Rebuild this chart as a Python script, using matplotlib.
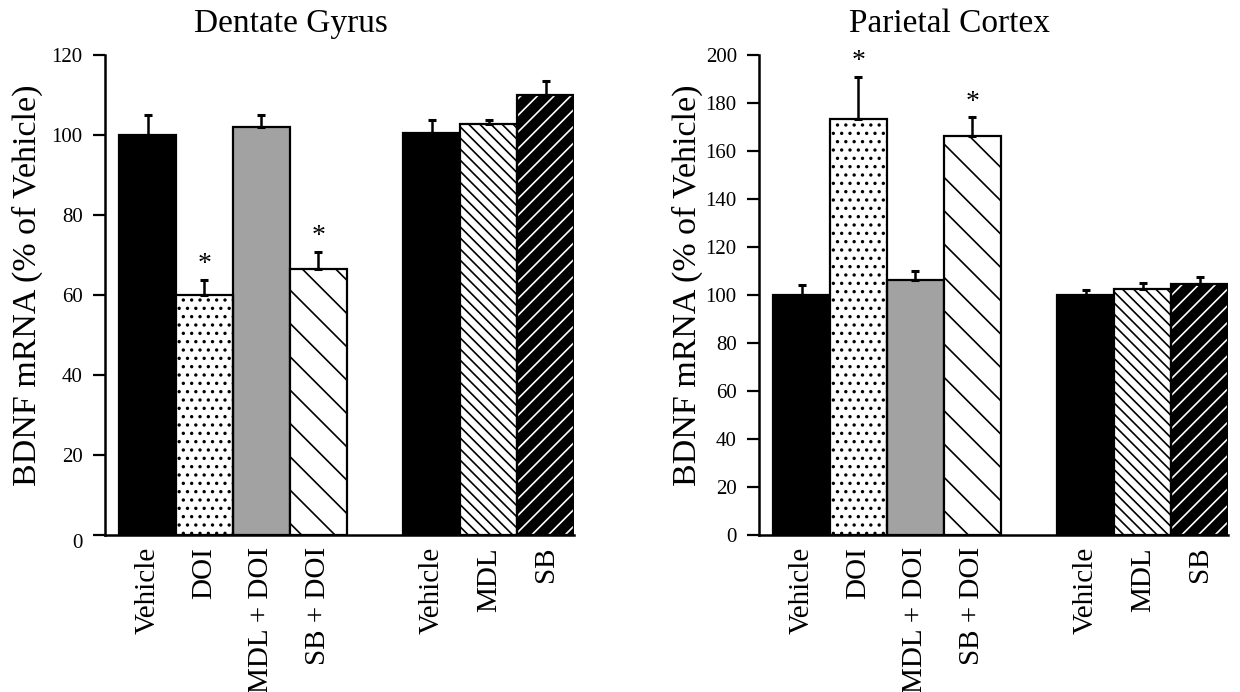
import matplotlib
matplotlib.use("Agg")
import matplotlib.pyplot as plt
import numpy as np

plt.rcParams['font.family'] = ['Liberation Serif', 'DejaVu Serif']
plt.rcParams['hatch.linewidth'] = 1.2

# ---- data ----
group1_labels = ['Vehicle', 'DOI', 'MDL + DOI', 'SB + DOI']
group2_labels = ['Vehicle', 'MDL', 'SB']

dg_title = 'Dentate Gyrus'
dg_means = [100, 60, 102, 66.5, 100.3, 102.6, 110]
dg_sem = [5, 3.7, 3, 4.2, 3.4, 1.1, 3.4]
dg_sig = [False, True, False, True, False, False, False]
dg_ticks = [0, 20, 40, 60, 80, 100, 120]

pc_title = 'Parietal Cortex'
pc_means = [100, 173, 106, 166, 99.7, 102.5, 104.5]
pc_sem = [4, 17.7, 4, 8, 2, 2.2, 3]
pc_sig = [False, True, False, True, False, False, False]
pc_ticks = [0, 20, 40, 60, 80, 100, 120, 140, 160, 180, 200]

ylabel = 'BDNF mRNA (% of Vehicle)'

# ---- styles ----
# (facecolor, hatch, hatchcolor)
styles = [
    ('black', None, None),
    ('white', '..', 'black'),
    ('#a2a2a2', None, None),
    ('white', '\\', 'black'),
    ('black', None, None),
    ('white', '\\\\\\', 'black'),
    ('black', '//', 'white'),
]

labels = group1_labels + group2_labels
positions = list(range(len(group1_labels))) + \
    [len(group1_labels) + 1 + i for i in range(len(group2_labels))]

fig = plt.figure(figsize=(12.4, 6.92), dpi=100)
W, H = 1240, 692


def make_axes(left_px):
    return fig.add_axes([left_px / W, (H - 534.5) / H, 469 / W, 480 / H])


def draw(ax, means, sems, sig, ticks, ylab_x):
    x = np.array(positions, dtype=float)
    for xi, m, (fc, hatch, hc) in zip(x, means, styles):
        if hatch is not None:
            ax.bar(xi, m, width=1.0, color=fc, edgecolor=hc, hatch=hatch,
                   linewidth=0, zorder=2)
            ax.bar(xi, m, width=1.0, color='none', edgecolor='black',
                   linewidth=1.6, zorder=3)
        else:
            ax.bar(xi, m, width=1.0, color=fc, edgecolor='black',
                   linewidth=1.6, zorder=2)
    means_a = np.array(means)
    sems_a = np.array(sems)
    ax.errorbar(x, means_a, yerr=[np.zeros_like(sems_a), sems_a], fmt='none',
                ecolor='black', elinewidth=1.8, capsize=3.2, capthick=2.2,
                zorder=4)
    for xi, m, s, flag in zip(x, means, sems, sig):
        if flag:
            ax.annotate('*', xy=(xi, m + s), xytext=(0, 6),
                        textcoords='offset points', ha='center',
                        va='baseline', fontsize=20)
    ax.set_xlim(-0.75, positions[-1] + 0.5)
    ax.set_ylim(ticks[0], ticks[-1])
    ax.set_yticks(ticks)
    ax.set_xticks(x)
    ax.set_xticklabels(labels, rotation=90, fontsize=21)
    ax.tick_params(axis='x', length=0, pad=9)
    ax.tick_params(axis='y', length=9, width=1.6, direction='out',
                   labelsize=15, pad=7)
    for sp in ['top', 'right']:
        ax.spines[sp].set_visible(False)
    for sp in ['left', 'bottom']:
        ax.spines[sp].set_linewidth(1.8)
    ax.set_ylabel(ylabel, fontsize=24.5)
    ax.yaxis.set_label_coords(ylab_x, 0.52)


ax1 = make_axes(105)
draw(ax1, dg_means, dg_sem, dg_sig, dg_ticks, -0.132)
ax1.get_yticklabels()[0].set_va('top')

ax2 = make_axes(759)
draw(ax2, pc_means, pc_sem, pc_sig, pc_ticks, -0.119)

fig.text(291 / W, 1 - 32 / H, dg_title, ha='center', va='baseline',
         fontsize=24)
fig.text(949 / W, 1 - 32 / H, pc_title, ha='center', va='baseline',
         fontsize=24)

fig.savefig('out.png', dpi=100)
